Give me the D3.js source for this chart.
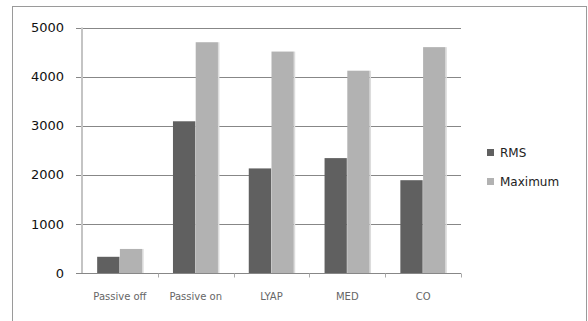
<!DOCTYPE html>
<html>
<head>
<meta charset="utf-8">
<script src="https://cdn.jsdelivr.net/npm/d3@7/dist/d3.min.js"></script>
<style>
  html, body { margin: 0; padding: 0; background: #fff; }
  svg { display: block; }
</style>
</head>
<body>
<svg id="chart" width="588" height="321"></svg>
<script>
// Chart data
const categories = ["Passive off", "Passive on", "LYAP", "MED", "CO"];
const seriesNames = ["RMS", "Maximum"];
const rmsValues = [330, 3090, 2130, 2340, 1890];
const maxValues = [490, 4700, 4510, 4120, 4600];
const yTicks = [0, 1000, 2000, 3000, 4000, 5000];
const seriesColors = ["#606060", "#b2b2b2"];

const svg = d3.select("#chart");
const plot = { left: 82, right: 461, top: 27.5, bottom: 273 };

// Outer frame
svg.append("rect")
  .attr("x", 12.5).attr("y", 6.5)
  .attr("width", 574).attr("height", 330)
  .attr("fill", "#fff")
  .attr("stroke", "#9a9a9a").attr("stroke-width", 1);

const y = d3.scaleLinear().domain([0, 5000]).range([plot.bottom, plot.top]);
const x0 = d3.scaleBand().domain(categories)
  .range([plot.left, plot.right])
  .paddingInner(0.4).paddingOuter(0.2);
const x1 = d3.scaleBand().domain(seriesNames)
  .range([0, x0.bandwidth()]).padding(0);

// Horizontal gridlines
svg.append("g")
  .selectAll("line")
  .data(yTicks.filter(t => t > 0))
  .join("line")
  .attr("x1", plot.left - 6).attr("x2", plot.right)
  .attr("y1", d => Math.round(y(d)) + 0.5)
  .attr("y2", d => Math.round(y(d)) + 0.5)
  .attr("stroke", "#878787").attr("stroke-width", 1);

// Bars
const rows = categories.map((c, i) => ({ cat: c, vals: [rmsValues[i], maxValues[i]] }));
const groups = svg.append("g").selectAll("g")
  .data(rows).join("g")
  .attr("transform", d => `translate(${x0(d.cat)},0)`);

// faint edge shading to the right of each bar
groups.selectAll("rect.edge")
  .data(d => d.vals.map((v, k) => ({ v, s: seriesNames[k], k })))
  .join("rect")
  .attr("class", "edge")
  .attr("x", d => x1(d.s) + x1.bandwidth() - 0.5)
  .attr("y", d => y(d.v))
  .attr("width", 1.5)
  .attr("height", d => y(0) - y(d.v))
  .attr("fill", "#dcdcdc");

groups.selectAll("rect.bar")
  .data(d => d.vals.map((v, k) => ({ v, s: seriesNames[k], k })))
  .join("rect")
  .attr("class", "bar")
  .attr("x", d => x1(d.s))
  .attr("y", d => y(d.v))
  .attr("width", x1.bandwidth() - 0.5)
  .attr("height", d => y(0) - y(d.v))
  .attr("fill", d => seriesColors[d.k]);

// Y axis
const yAxis = d3.axisLeft(y).tickValues(yTicks).tickFormat(d3.format("d")).tickSize(0).tickPadding(18);
const gy = svg.append("g").attr("transform", `translate(${plot.left},0)`).call(yAxis);
gy.select(".domain").remove();
gy.selectAll("text")
  .attr("font-family", "DejaVu Sans, Verdana, sans-serif")
  .attr("font-size", 13)
  .attr("fill", "#111");
svg.append("line")
  .attr("x1", plot.left).attr("x2", plot.left)
  .attr("y1", plot.top).attr("y2", plot.bottom)
  .attr("stroke", "#c4c4c4").attr("stroke-width", 2);
// zero tick mark
svg.append("line")
  .attr("x1", plot.left - 6).attr("x2", plot.left)
  .attr("y1", Math.round(y(0)) + 0.5).attr("y2", Math.round(y(0)) + 0.5)
  .attr("stroke", "#878787");

// X axis
const xAxis = d3.axisBottom(x0).tickSize(0).tickPadding(19);
const gx = svg.append("g").attr("transform", `translate(0,${Math.round(plot.bottom) + 0.5})`).call(xAxis);
gx.select(".domain").attr("stroke", "#878787").attr("d", `M${plot.left},0H${plot.right}`);
gx.selectAll("text")
  .attr("font-family", "DejaVu Sans, Verdana, sans-serif")
  .attr("font-size", 10)
  .attr("fill", "#666");
// category boundary ticks
const bounds = categories.map(c => x0(c) - x0.step() * x0.paddingInner() / 2).concat([plot.right]);
gx.append("g").selectAll("line")
  .data(bounds.slice(1))
  .join("line")
  .attr("x1", d => Math.round(d) + 0.5).attr("x2", d => Math.round(d) + 0.5)
  .attr("y1", 0).attr("y2", 4)
  .attr("stroke", "#aaaaaa");

// Legend
const legend = svg.append("g").attr("transform", "translate(487,153)");
const li = legend.selectAll("g").data(seriesNames).join("g")
  .attr("transform", (d, i) => `translate(0,${i * 29})`);
li.append("rect")
  .attr("x", 0).attr("y", -4).attr("width", 7).attr("height", 7)
  .attr("fill", (d, i) => seriesColors[i]);
li.append("text")
  .attr("x", 13).attr("y", 0).attr("dy", "0.35em")
  .attr("font-family", "DejaVu Sans, Verdana, sans-serif")
  .attr("font-size", 12)
  .attr("fill", "#222")
  .text(d => d);
</script>
</body>
</html>
